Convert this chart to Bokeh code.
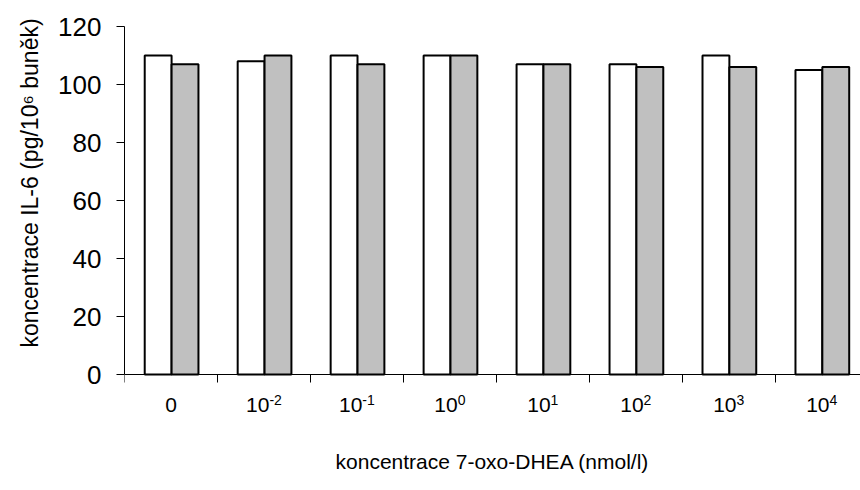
from bokeh.plotting import figure
from bokeh.models import ColumnDataSource, Range1d, FixedTicker, Title
from bokeh.core.properties import value
from bokeh.embed import file_html
from bokeh.resources import INLINE

# category labels: base text and superscript exponent
cat_base = ["0", "10", "10", "10", "10", "10", "10", "10"]
cat_exp = ["", "-2", "-1", "0", "1", "2", "3", "4"]
series_white = [110, 108, 110, 110, 107, 107, 110, 105]
series_gray = [107, 110, 107, 110, 107, 106, 106, 106]
y_ticks = [0, 20, 40, 60, 80, 100, 120]

FONT = "Liberation Sans"
BASE_PX = 21
EXP_PX = 14

idx = list(range(len(cat_base)))
src_w = ColumnDataSource(dict(x=[i + 0.362 for i in idx], top=series_white))
src_g = ColumnDataSource(dict(x=[i + 0.651 for i in idx], top=series_gray))

# frame extends below zero to hold the category labels (axis drawn at y=0)
p = figure(width=860, height=490, output_backend="svg", toolbar_location=None,
           x_range=Range1d(0, 7.917), y_range=Range1d(-19.3, 120),
           min_border_left=124, min_border_right=0, min_border_top=26, min_border_bottom=60)
p.outline_line_color = None
p.xgrid.visible = False
p.ygrid.visible = False

p.vbar(x="x", top="top", bottom=0, width=0.289, source=src_w,
       fill_color="white", line_color="black", line_width=2)
p.vbar(x="x", top="top", bottom=0, width=0.289, source=src_g,
       fill_color="#c0c0c0", line_color="black", line_width=2)

# x axis at y = 0: tick marks at category boundaries
xa = p.xaxis[0]
xa.fixed_location = 0
xa.ticker = FixedTicker(ticks=[], minor_ticks=list(range(len(cat_base) + 1)))
xa.minor_tick_out = 8
xa.minor_tick_in = 0
xa.minor_tick_line_color = "black"
xa.axis_line_color = "black"

def width_est(s, px):
    w = {"-": 0.333}
    return sum(w.get(ch, 0.556) for ch in s) * px

shift = [(width_est(b, BASE_PX) - width_est(e, EXP_PX)) / 2 for b, e in zip(cat_base, cat_exp)]
base_src = ColumnDataSource(dict(x=[i + 0.5 for i in idx], y=[0] * len(idx), text=cat_base, xo=shift))
exp_src = ColumnDataSource(dict(x=[i + 0.5 for i in idx], y=[0] * len(idx), text=cat_exp, xo=shift))

p.text(x="x", y="y", text="text", x_offset="xo", y_offset=23, source=base_src,
       text_align="right", text_baseline="top", text_font=value(FONT),
       text_font_size=f"{BASE_PX}px", text_color="black")
p.text(x="x", y="y", text="text", x_offset="xo", y_offset=20, source=exp_src,
       text_align="left", text_baseline="top", text_font=value(FONT),
       text_font_size=f"{EXP_PX}px", text_color="black")

xtitle = Title(text="koncentrace 7-oxo-DHEA (nmol/l)", align="center",
               text_font=FONT, text_font_size="21px", text_font_style="normal",
               text_color="black", standoff=34)
p.add_layout(xtitle, "below")

# y axis
ya = p.yaxis[0]
ya.bounds = (0, 120)
ya.ticker = FixedTicker(ticks=y_ticks, minor_ticks=[])
ya.major_tick_out = 8
ya.major_tick_in = 0
ya.minor_tick_line_color = None
ya.axis_line_color = "black"
ya.major_label_text_font = FONT
ya.major_label_text_font_size = "26px"
ya.major_label_text_color = "black"
ya.major_label_standoff = 15

ytitle = Title(text="koncentrace IL-6 (pg/10⁶ buněk)", align="left", offset=83,
               text_font=FONT, text_font_size="23px", text_font_style="normal",
               text_color="black", standoff=26)
p.add_layout(ytitle, "left")

open("out.html", "w").write(file_html(p, INLINE))
